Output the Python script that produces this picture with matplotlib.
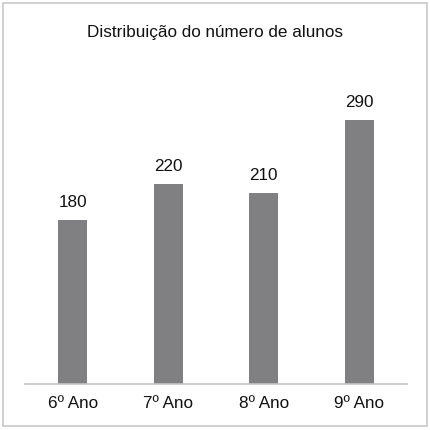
import matplotlib.pyplot as plt
from matplotlib.patches import Rectangle

categories = ['6º Ano', '7º Ano', '8º Ano', '9º Ano']
alunos = [180, 220, 210, 290]

plt.rcParams['font.family'] = ['Liberation Sans', 'DejaVu Sans']

fig = plt.figure(figsize=(4.3, 4.3), dpi=100)

# axes placed so the baseline sits near y=384 px
ax = fig.add_axes([25 / 430, (430 - 383.7) / 430, 382 / 430, (383.7 - 60) / 430])
x = range(len(categories))
bars = ax.bar(x, alunos, width=0.30, color='#808083', zorder=2)
ax.set_xlim(-0.5, len(categories) - 0.5)
ax.set_ylim(0, 356)

for b, v in zip(bars, alunos):
    ax.text(b.get_x() + b.get_width() / 2, v + 11, str(v),
            ha='center', va='bottom', fontsize=12.3, color='#111111')

ax.set_xticks(list(x))
ax.set_xticklabels(categories, fontsize=12.3, color='#111111')
ax.tick_params(axis='x', length=0, pad=9)
ax.set_yticks([])
for side in ['top', 'left', 'right']:
    ax.spines[side].set_visible(False)
ax.spines['bottom'].set_color('#c4c4c4')
ax.spines['bottom'].set_linewidth(1.2)

fig.text(0.5, 1 - 33 / 430, 'Distribuição do número de alunos',
         ha='center', va='center', fontsize=12.3, color='#111111')

# outer frame
fig.patches.append(Rectangle((3 / 430, 4 / 430), 424 / 430, 423 / 430,
                             transform=fig.transFigure, fill=False,
                             edgecolor='#c8c8c8', linewidth=1.2))

fig.savefig('out.png', dpi=100)
